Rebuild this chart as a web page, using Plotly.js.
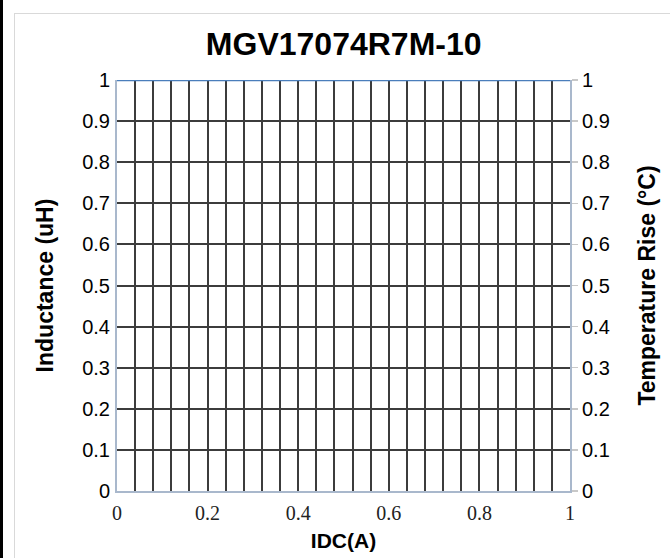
<!DOCTYPE html>
<html>
<head>
<meta charset="utf-8">
<script src="https://cdn.plot.ly/plotly-3.0.1.min.js"></script>
<style>
html,body{margin:0;padding:0;background:#fff;}
#wrap{position:relative;width:670px;height:558px;overflow:hidden;}
#strip{position:absolute;left:0;top:0;width:3px;height:558px;background:#000;}
#frame{position:absolute;left:14px;top:13px;width:700px;height:600px;border:1.5px solid #d9d9d9;box-sizing:border-box;}
#chart{position:absolute;left:0;top:0;width:670px;height:558px;}
</style>
</head>
<body>
<div id="wrap">
<div id="chart"></div>
<div id="frame"></div>
<div id="strip"></div>
</div>
<script>
const chartTitle = "MGV17074R7M-10";
const xTitle = "IDC(A)";
const yTitleLeft = "Inductance (uH)";
const yTitleRight = "Temperature Rise (°C)";
const xTickVals = [0, 0.2, 0.4, 0.6, 0.8, 1];
const xTickText = ["0", "0.2", "0.4", "0.6", "0.8", "1"];
const xGridStep = 0.04;
const yTickVals = [0, 0.1, 0.2, 0.3, 0.4, 0.5, 0.6, 0.7, 0.8, 0.9, 1];
const yTickText = ["0", "0.1", "0.2", "0.3", "0.4", "0.5", "0.6", "0.7", "0.8", "0.9", "1"];
const seriesX = [0, 1];
const seriesY = [1, 1];

const gridColor = "#3c3c3c";
const axisColor = "#a9b8cc";
const sans = "Liberation Sans, Arial";

const data = [
  {x: seriesX, y: seriesY, type: "scatter", mode: "lines",
   line: {color: "#4a7ebb", width: 2.25}, showlegend: false, hoverinfo: "skip", cliponaxis: false},
  {x: seriesX, y: seriesY, type: "scatter", mode: "lines", xaxis: "x2", yaxis: "y2",
   line: {color: "rgba(0,0,0,0)", width: 0}, showlegend: false, hoverinfo: "skip"}
];

const layout = {
  width: 670, height: 558,
  margin: {l: 117, r: 100, t: 80, b: 67},
  paper_bgcolor: "#fff", plot_bgcolor: "#fff",
  showlegend: false,
  title: {text: "<b>" + chartTitle + "</b>", x: 0.513, xanchor: "center", y: 1 - 44/558, yanchor: "middle",
          yref: "container", font: {family: sans, size: 32, color: "#000"}},
  xaxis: {
    range: [0, 1], dtick: xGridStep, tick0: 0, ticks: "", showticklabels: false,
    showgrid: true, gridcolor: gridColor, gridwidth: 2,
    showline: true, linecolor: axisColor, linewidth: 2,
    zeroline: false, fixedrange: true
  },
  xaxis2: {
    range: [0, 1], overlaying: "x", side: "bottom", anchor: "y",
    tickvals: xTickVals, ticktext: xTickText, ticks: "", showgrid: false, showline: false,
    zeroline: false, fixedrange: true, ticklabelstandoff: 8,
    tickfont: {family: "Liberation Serif, Times New Roman", size: 20, color: "#222"},
    title: {text: "<b>" + xTitle + "</b>", standoff: 10, font: {family: sans, size: 21, color: "#000"}}
  },
  yaxis: {
    range: [0, 1], tickvals: yTickVals, ticktext: yTickText, ticks: "",
    showgrid: true, gridcolor: gridColor, gridwidth: 2,
    showline: true, linecolor: axisColor, linewidth: 2,
    zeroline: false, fixedrange: true,
    tickfont: {family: sans, size: 20, color: "#000"},
    ticklabelstandoff: 1,
    title: {text: "<b>" + yTitleLeft + "</b>", standoff: 22, font: {family: sans, size: 23, color: "#000"}}
  },
  yaxis2: {
    range: [0, 1], tickvals: yTickVals, ticktext: yTickText, overlaying: "y", side: "right", anchor: "x",
    ticks: "outside", ticklen: 6, tickwidth: 1.5, tickcolor: "#c8c8c8",
    showgrid: false, showline: true, linecolor: axisColor, linewidth: 2,
    zeroline: false, fixedrange: true,
    tickfont: {family: sans, size: 20, color: "#000"},
    ticklabelstandoff: 0,
    title: {text: "<b>" + yTitleRight + "</b>", standoff: 30, font: {family: sans, size: 23, color: "#000"}}
  }
};

Plotly.newPlot("chart", data, layout, {staticPlot: true, displayModeBar: false});
</script>
</body>
</html>
